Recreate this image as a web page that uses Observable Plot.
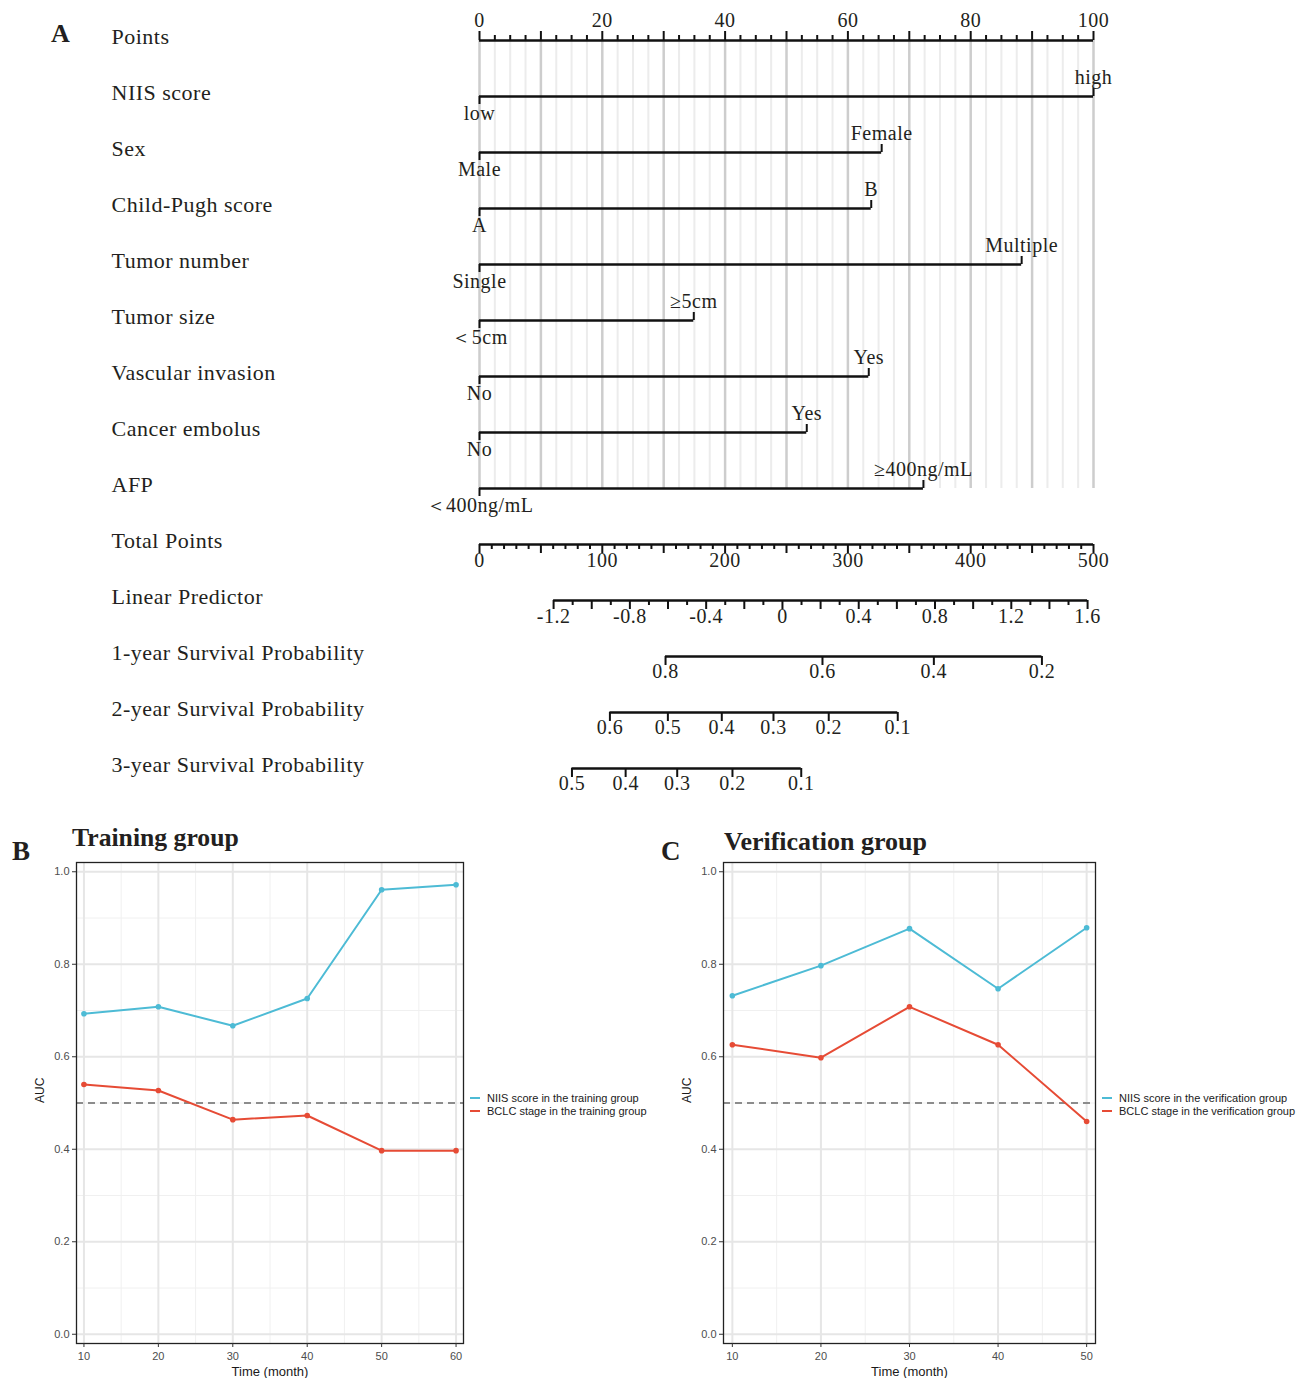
<!DOCTYPE html>
<html><head><meta charset="utf-8">
<script src="https://cdn.jsdelivr.net/npm/d3@7"></script>
<script src="https://cdn.jsdelivr.net/npm/@observablehq/plot@0.6"></script>
<style>
body{margin:0;background:#fff;}
#root{position:relative;width:1299px;height:1378px;overflow:hidden;background:#fff;}
.abs{position:absolute;white-space:nowrap;}
.serif{font-family:"Liberation Serif","Times New Roman",serif;color:#231f20;}
.nomo text{letter-spacing:0.5px;}
.leg{font-family:"Liberation Sans",Arial,sans-serif;font-size:11px;color:#1a1a1a;line-height:13px;}
.leg .sw{display:inline-block;width:10px;height:2px;vertical-align:middle;margin-right:7px;position:relative;top:-1px;}
</style></head><body><div id="root"></div>
<script>
// ---------- Panel A: nomogram data ----------
const rowNames = ["Points","NIIS score","Sex","Child-Pugh score","Tumor number","Tumor size","Vascular invasion","Cancer embolus","AFP","Total Points","Linear Predictor","1-year Survival Probability","2-year Survival Probability","3-year Survival Probability"];
const factorNames = ["NIIS score","Sex","Child-Pugh score","Tumor number","Tumor size","Vascular invasion","Cancer embolus","AFP"];
const factorLow = ["low","Male","A","Single","＜5cm","No","No","＜400ng/mL"];
const factorHigh = ["high","Female","B","Multiple","≥5cm","Yes","Yes","≥400ng/mL"];
const factorHighPoints = [100, 65.5, 63.8, 88.3, 34.9, 63.4, 53.3, 72.3];

const pointsLabels = [0,20,40,60,80,100];
const totalLabels = [0,100,200,300,400,500];
const lpLabels = [-1.2,-0.8,-0.4,0,0.4,0.8,1.2,1.6];
const lpIntercept = 246.7, lpSlope = 155.3; // total points = intercept + slope * LP
const surv1Labels = ["0.8","0.6","0.4","0.2"];
const surv1Total = [151.5,279.3,370,458];
const surv2Labels = ["0.6","0.5","0.4","0.3","0.2","0.1"];
const surv2Total = [106.2,153.4,197.3,239.4,284.4,340.6];
const surv3Labels = ["0.5","0.4","0.3","0.2","0.1"];
const surv3Total = [75.3,119,161,206,262];

// ---------- Panels B / C: AUC data ----------
const timesTrain = [10,20,30,40,50,60];
const niisTrain = [0.693,0.708,0.667,0.726,0.961,0.972];
const bclcTrain = [0.540,0.527,0.464,0.473,0.397,0.397];
const timesVerif = [10,20,30,40,50];
const niisVerif = [0.732,0.797,0.877,0.747,0.879];
const bclcVerif = [0.626,0.598,0.708,0.626,0.460];
const aucTicks = [0,0.2,0.4,0.6,0.8,1.0];
const referenceAUC = 0.5;

const BLUE = "#4DBBD5", RED = "#E64B35";
const root = document.getElementById("root");

function addDiv(cls, left, top, html, style="") {
  const d = document.createElement("div");
  d.className = "abs " + cls;
  d.style.cssText = `left:${left}px;top:${top}px;${style}`;
  d.innerHTML = html;
  root.appendChild(d);
  return d;
}

// ---------- Build nomogram ----------
(function(){
  const T = 1/56; // row units per pixel (row spacing 56px)
  const totalToPts = v => v/5;
  const lpToPts = v => totalToPts(lpIntercept + lpSlope*v);
  const axes = [];
  // Points axis (row 0): ticks up, labels above
  axes.push({row:0, dir:-1, from:0, to:100,
    ticks: d3.range(0,100.001,2.5).map(v=>({p:v, len: Math.abs(v%10)<1e-6 ? 9 : 5})),
    labels: pointsLabels.map(v=>({p:v, t:String(v)})), dy:-20});
  // Total points (row 9)
  axes.push({row:9, dir:1, from:0, to:100,
    ticks: d3.range(0,500.001,10).map(v=>({p:totalToPts(v), len: v%50===0 ? 9 : 5})),
    labels: totalLabels.map(v=>({p:totalToPts(v), t:String(v)})), dy:16});
  // Linear predictor (row 10)
  const lpTicks = d3.range(-12,17,1).map(k=>k/10);
  axes.push({row:10, dir:1, from:lpToPts(-1.2), to:lpToPts(1.6),
    ticks: lpTicks.map(v=>({p:lpToPts(v), len: Math.round(v*10)%2===0 ? 9 : 5})),
    labels: lpLabels.map(v=>({p:lpToPts(v), t:String(v)})), dy:16});
  [[surv1Labels,surv1Total],[surv2Labels,surv2Total],[surv3Labels,surv3Total]].forEach(([lab,tot],k)=>{
    axes.push({row:11+k, dir:1, from:totalToPts(d3.min(tot)), to:totalToPts(d3.max(tot)),
      ticks: tot.map(v=>({p:totalToPts(v), len:9})),
      labels: lab.map((t,i)=>({p:totalToPts(tot[i]), t})), dy:15});
  });
  const axisTicks = axes.flatMap(a=>a.ticks.map(t=>({...t, row:a.row, dir:a.dir})));
  const factors = factorNames.map((n,i)=>({row:i+1, low:factorLow[i], high:factorHigh[i], hp:factorHighPoints[i]}));

  const font = "Liberation Serif, Times New Roman, serif";
  const gridMajor = d3.range(0,100.001,10);
  const gridMinor = d3.range(0,100.001,2.5).filter(v=>Math.abs(v%10)>1e-6);

  const svg = Plot.plot({
    width:1299, height:800, margin:0,
    x:{domain:[0,100], range:[479,1093], axis:null},
    y:{domain:[0,13], range:[40,768], axis:null},
    style:{fontFamily:font, background:"transparent", color:"#231f20"},
    marks:[
      Plot.ruleX(gridMinor, {x:d=>d, y1:()=>0, y2:()=>8, stroke:"#ececec", strokeWidth:2}),
      Plot.ruleX(gridMajor, {x:d=>d, y1:()=>0, y2:()=>8, stroke:"#cdcdcd", strokeWidth:2.5}),
      // row titles
      Plot.text(rowNames, {y:(d,i)=>i, text:d=>d, frameAnchor:"left", dx:111, dy:-3.5, textAnchor:"start", fontSize:22, fill:"#231f20"}),
      // axis lines
      Plot.ruleY(axes, {y:"row", x1:"from", x2:"to", stroke:"#111", strokeWidth:2.4}),
      Plot.ruleX(axisTicks, {x:"p", y1:d=>d.dir<0 ? d.row - d.len*T : d.row, y2:d=>d.dir<0 ? d.row : d.row + d.len*T, stroke:"#111", strokeWidth:2}),
      ...axes.map(a => Plot.text(a.labels, {x:"p", y:()=>a.row, text:"t", dy:a.dy, fontSize:20, fill:"#231f20"})),
      // factor rows
      Plot.ruleY(factors, {y:"row", x1:()=>0, x2:"hp", stroke:"#111", strokeWidth:2.4}),
      Plot.ruleX(factors, {x:()=>0, y1:"row", y2:d=>d.row + 8*T, stroke:"#111", strokeWidth:2}),
      Plot.ruleX(factors, {x:"hp", y1:d=>d.row - 8*T, y2:"row", stroke:"#111", strokeWidth:2}),
      Plot.text(factors, {x:()=>0, y:"row", text:"low", dy:17, fontSize:20, fill:"#231f20"}),
      Plot.text(factors, {x:"hp", y:"row", text:"high", dy:-19, fontSize:20, fill:"#231f20"})
    ]
  });
  const wrap = addDiv("nomo", 0, 0, "");
  wrap.appendChild(svg);
  addDiv("serif", 51, 21, "A", "font-size:26px;font-weight:bold;line-height:26px;");
})();

// ---------- AUC panels ----------
function aucPlot(times, niis, bclc, cfg) {
  const data = [
    ...times.map((t,i)=>({t, auc:niis[i], s:"NIIS"})),
    ...times.map((t,i)=>({t, auc:bclc[i], s:"BCLC"}))
  ];
  const xMin = d3.min(times), xMax = d3.max(times);
  const xMajor = d3.range(xMin, xMax+0.001, 10);
  const xMinor = d3.range(xMin+5, xMax, 10);
  const yMinor = [0.1,0.3,0.5,0.7,0.9];
  return Plot.plot({
    width:cfg.width, height:558,
    marginLeft:cfg.marginLeft, marginRight:cfg.marginRight, marginTop:42, marginBottom:35,
    x:{domain:[xMin-1, xMax+1], axis:null},
    y:{domain:[-0.02,1.02], axis:null},
    color:{domain:["NIIS","BCLC"], range:[BLUE, RED]},
    style:{fontFamily:"Liberation Sans, Arial, sans-serif", fontSize:"11px", color:"#4d4d4d", background:"transparent"},
    marks:[
      Plot.gridX(xMinor, {stroke:"#f0f0f0", strokeOpacity:1, strokeWidth:1}),
      Plot.gridY(yMinor, {stroke:"#f0f0f0", strokeOpacity:1, strokeWidth:1}),
      Plot.gridX(xMajor, {stroke:"#e6e6e6", strokeOpacity:1, strokeWidth:2}),
      Plot.gridY(aucTicks, {stroke:"#e6e6e6", strokeOpacity:1, strokeWidth:2}),
      Plot.ruleY([referenceAUC], {stroke:"#8c8c8c", strokeWidth:1.8, strokeDasharray:"7,5"}),
      Plot.line(data, {x:"t", y:"auc", z:"s", stroke:"s", strokeWidth:2}),
      Plot.dot(data, {x:"t", y:"auc", fill:"s", r:2.8}),
      Plot.frame({stroke:"#222", strokeWidth:1.3}),
      Plot.axisX(xMajor, {tickSize:4, tickPadding:5, label:null, fill:"#4d4d4d", stroke:"#333", fontSize:11}),
      Plot.axisY(aucTicks, {tickSize:4, tickPadding:3, tickFormat:d=>d.toFixed(1), label:null, fill:"#4d4d4d", stroke:"#333", fontSize:11}),
      Plot.text(["Time (month)"], {frameAnchor:"bottom", dy:32, fontSize:13, fill:"#1a1a1a"}),
      Plot.text(["AUC"], {frameAnchor:"left", dx:-36, rotate:-90, fontSize:12, fill:"#1a1a1a"})
    ]
  });
}

const svgB = aucPlot(timesTrain, niisTrain, bclcTrain, {width:660, marginLeft:76, marginRight:660-463});
addDiv("", 0, 820, "").appendChild(svgB);
const svgC = aucPlot(timesVerif, niisVerif, bclcVerif, {width:649, marginLeft:723-650, marginRight:1299-1095});
addDiv("", 650, 820, "").appendChild(svgC);

addDiv("serif", 12, 838, "B", "font-size:27px;font-weight:bold;line-height:27px;");
addDiv("serif", 661, 838, "C", "font-size:27px;font-weight:bold;line-height:27px;");
addDiv("serif", 72, 825, "Training group", "font-size:25.7px;font-weight:bold;line-height:25px;");
addDiv("serif", 724, 829, "Verification group", "font-size:26px;font-weight:bold;line-height:25px;");

function legend(left, top, items) {
  const html = items.map(([c,t])=>`<div><span class="sw" style="background:${c}"></span>${t}</div>`).join("");
  addDiv("leg", left, top, html);
}
legend(470, 1092, [[BLUE,"NIIS score in the training group"],[RED,"BCLC stage in the training group"]]);
legend(1102, 1092, [[BLUE,"NIIS score in the verification group"],[RED,"BCLC stage in the verification group"]]);
</script>
</body></html>
